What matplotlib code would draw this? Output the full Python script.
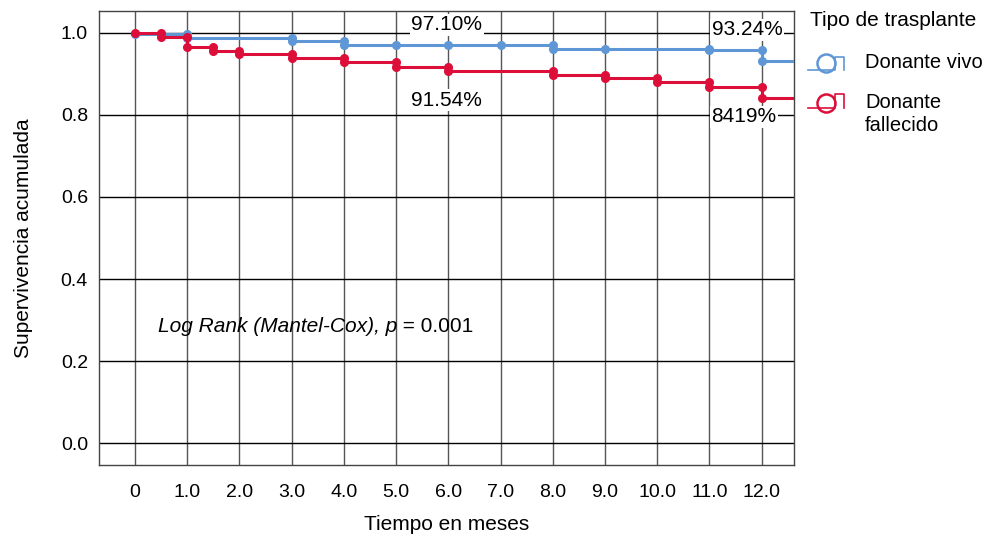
import numpy as np
import matplotlib
matplotlib.use('Agg')
import matplotlib.pyplot as plt
from matplotlib.lines import Line2D

plt.rcParams['font.family'] = ['Liberation Sans', 'DejaVu Sans']

# data
months = [0, 1, 2, 3, 4, 5, 6, 7, 8, 9, 10, 11, 12]
month_labels = ['0', '1.0', '2.0', '3.0', '4.0', '5.0', '6.0', '7.0', '8.0', '9.0', '10.0', '11.0', '12.0']

vivo_t = [0, 1, 3, 4, 8, 11, 12]
vivo_s = [0.997, 0.987, 0.979, 0.971, 0.961, 0.957, 0.9324]
vivo_cens = [0, 1, 3, 4, 5, 6, 7, 8, 9, 11, 12]

fall_t = [0, 0.5, 1, 1.5, 2, 3, 4, 5, 6, 8, 9, 10, 11, 12]
fall_s = [1.0, 0.989, 0.966, 0.956, 0.948, 0.9375, 0.928, 0.9154, 0.906, 0.898, 0.89, 0.879, 0.869, 0.8419]
fall_cens = [0, 0.5, 1, 1.5, 2, 3, 4, 5, 6, 8, 9, 10, 11, 12]

labels_txt = [(5.97, 1.02, '97.10%'), (11.72, 1.007, '93.24%'),
              (5.97, 0.836, '91.54%'), (11.66, 0.795, '8419%')]

blue = '#5f97d6'
red = '#dc0f3a'
t_end = 12.62


def km_draw(ax, t, s, cens, color, z):
    xs = list(t) + [t_end]
    ys = list(s) + [s[-1]]
    ax.step(xs, ys, where='post', color=color, lw=2.2, zorder=z)
    # censor dots: both levels where the curve drops
    px, py = [], []
    for c in cens:
        i = max(k for k in range(len(t)) if t[k] <= c)
        cur = s[i]
        if t[i] == c and i > 0:
            px += [c, c]
            py += [s[i - 1], cur]
        else:
            px.append(c)
            py.append(cur)
    ax.plot(px, py, 'o', color=color, ms=5.5, zorder=z + 0.5)


fig = plt.figure(figsize=(9.9, 5.36), dpi=100)
ax = fig.add_axes([99 / 990, 1 - 465 / 536, (794 - 99) / 990, (465 - 11) / 536])

km_draw(ax, vivo_t, vivo_s, vivo_cens, blue, 3)
km_draw(ax, fall_t, fall_s, fall_cens, red, 4)

ax.set_xlim(-0.69, t_end)
ax.set_ylim(-0.053, 1.053)
ax.set_xticks(months)
ax.set_xticklabels(month_labels)
ax.set_yticks([0.0, 0.2, 0.4, 0.6, 0.8, 1.0])
ax.set_yticklabels(['0.0', '0.2', '0.4', '0.6', '0.8', '1.0'])
ax.tick_params(length=0, labelsize=14)
ax.tick_params(axis='x', pad=13.5)
ax.tick_params(axis='y', pad=8)
for m in months:
    ax.axvline(m, color='#555555', lw=1, zorder=1)
for v in [0.0, 0.2, 0.4, 0.6, 0.8, 1.0]:
    ax.axhline(v, color='black', lw=1, zorder=1)
for sp in ax.spines.values():
    sp.set_color('#444444')
    sp.set_linewidth(1)

ax.set_xlabel('Tiempo en meses', fontsize=15, labelpad=10)
ax.set_ylabel('Supervivencia acumulada', fontsize=15, labelpad=20)

for x, y, s in labels_txt:
    ax.text(x, y, s, ha='center', va='center', fontsize=15, zorder=6,
            bbox=dict(facecolor='white', edgecolor='none', pad=1))

t1 = ax.text(0.44, 0.27, 'Log Rank (Mantel-Cox), p', style='italic', fontsize=15,
             ha='left', va='baseline', zorder=6)
ax.annotate(' = 0.001', xy=(1, 0), xycoords=t1, fontsize=15, ha='left', va='bottom',
            zorder=6)


# legend drawn in figure pixels
def P(x, y):
    return x / 990, 1 - y / 536


fig.text(*P(810, 20), 'Tipo de trasplante', fontsize=15, ha='left', va='center')
for color, cy, low, top, lab in [(blue, 63, 70, 57, 'Donante vivo'),
                                 (red, 103, 108, 94, 'Donante\nfallecido')]:
    xs = [808, 835, 835, 844, 844]
    ys = [low, low, top, top, low]
    pts = [P(a, b) for a, b in zip(xs, ys)]
    fig.add_artist(Line2D([p[0] for p in pts], [p[1] for p in pts], color=color,
                          lw=1.2, transform=fig.transFigure))
    cx, cyy = P(826, cy)
    fig.add_artist(Line2D([cx], [cyy], marker='o', ms=13, mfc='none', mec=color,
                          mew=1.8, transform=fig.transFigure))
    fig.text(*P(865, cy if '\n' not in lab else cy + 11), lab, fontsize=14.5,
             ha='left', va='center', linespacing=1.3)

fig.savefig('out.png', dpi=100)
